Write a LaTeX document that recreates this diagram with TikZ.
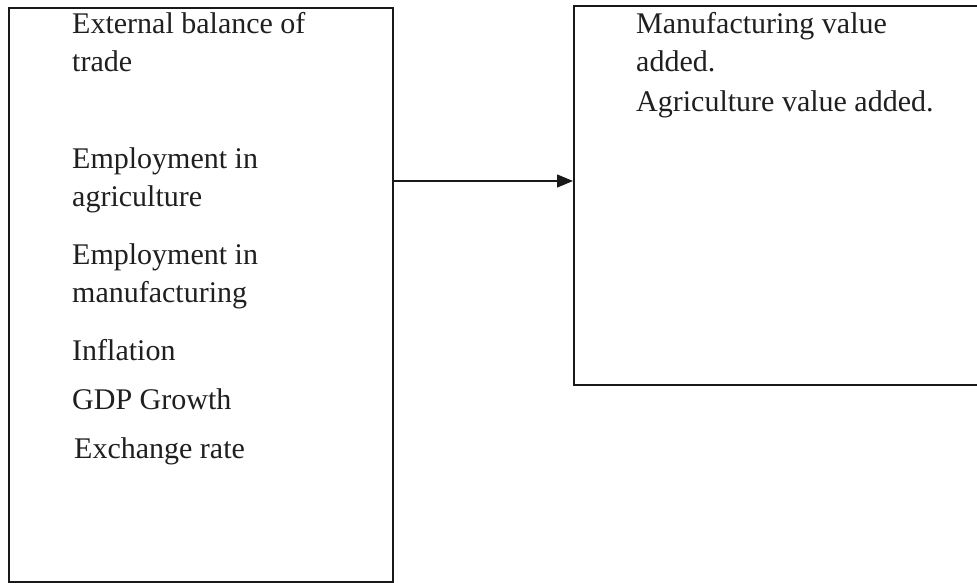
\documentclass[tikz,border=0pt]{standalone}
\usepackage{fontspec}
\setmainfont{Liberation Serif}
\usetikzlibrary{arrows.meta}
\begin{document}
\begin{tikzpicture}[x=1pt,y=-1pt,
  box/.style={draw=black!90,line width=1.7pt,inner sep=0pt,rectangle},
  txt/.style={anchor=base west,inner sep=0pt,font=\fontsize{30}{34}\selectfont,text=black!88},
  conn/.style={draw=black!90,line width=1.4pt,-{Triangle[length=16pt,width=13pt]}}]
\useasboundingbox (0,0) rectangle (977,583);
% boxes
\node[box,minimum width=384pt,minimum height=574pt,anchor=north west] (lbox) at (8,7) {};
\node[box,minimum width=420pt,minimum height=379pt,anchor=north west] (rbox) at (573,5) {};
% left texts
\node[txt] (t1) at (72,34) {External balance of};
\node[txt] (t2) at (72,72) {trade};
\node[txt] (t3) at (72,168) {Employment in};
\node[txt] (t4) at (72,206) {agriculture};
\node[txt] (t5) at (72,264) {Employment in};
\node[txt] (t6) at (72,302) {manufacturing};
\node[txt] (t7) at (72,360) {Inflation};
\node[txt] (t8) at (72,409) {GDP Growth};
\node[txt] (t9) at (74,458) {Exchange rate};
% right texts
\node[txt] (r1) at (636,34) {Manufacturing value};
\node[txt] (r2) at (636,72) {added.};
\node[txt] (r3) at (636,112) {Agriculture value added.};
% connector
\coordinate (ay) at (480,181);
\draw[conn] (lbox.east |- ay) -- (rbox.west |- ay);
\end{tikzpicture}
\end{document}
